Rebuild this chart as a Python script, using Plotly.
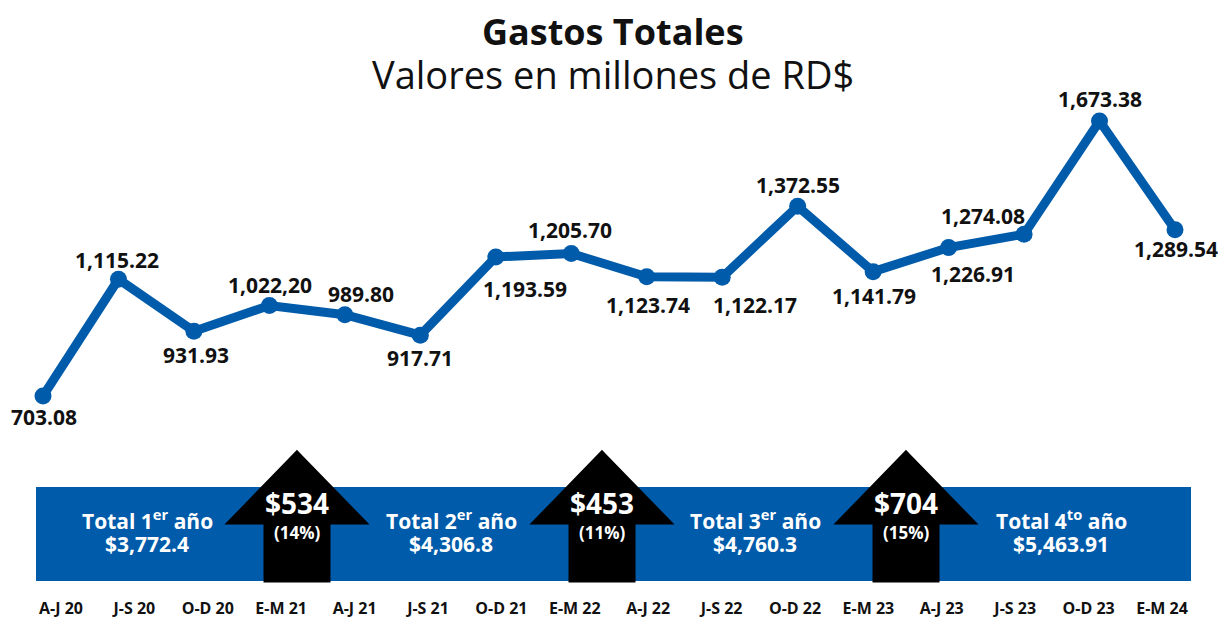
import plotly.graph_objects as go

periods = ["A-J 20", "J-S 20", "O-D 20", "E-M 21", "A-J 21", "J-S 21", "O-D 21", "E-M 22",
           "A-J 22", "J-S 22", "O-D 22", "E-M 23", "A-J 23", "J-S 23", "O-D 23", "E-M 24"]
gastos = [703.08, 1115.22, 931.93, 1022.20, 989.80, 917.71, 1193.59, 1205.70,
          1123.74, 1122.17, 1372.55, 1141.79, 1226.91, 1274.08, 1673.38, 1289.54]
labels = ["703.08", "1,115.22", "931.93", "1,022,20", "989.80", "917.71", "1,193.59", "1,205.70",
          "1,123.74", "1,122.17", "1,372.55", "1,141.79", "1,226.91", "1,274.08", "1,673.38", "1,289.54"]

year_titles = ["Total 1<sup>er</sup> año", "Total 2<sup>er</sup> año",
               "Total 3<sup>er</sup> año", "Total 4<sup>to</sup> año"]
year_totals = ["$3,772.4", "$4,306.8", "$4,760.3", "$5,463.91"]
growth_amt = ["$534", "$453", "$704"]
growth_pct = ["(14%)", "(11%)", "(15%)"]

# label placement offsets in screen pixels (layout only)
label_dx = [1, -1, 2, 1, 16, 0, 29, -1, 1, 33, 0, 1, 24, -41, 0, 1]
label_dy = [21, -19, 24, -21, -21, 23, 32, -24, 28, 28, -21, 24, 26, -18, -22, 19]

W, H = 1218, 619
MB = 22
PH = H - MB
BLUE = "#005BAA"
FONT = "Open Sans"
INK = "#111111"

def px(x):
    return x / W

def py(y):
    return (PH - y) / PH

fig = go.Figure()
fig.add_trace(go.Scatter(
    x=list(range(len(gastos))), y=gastos, mode="lines+markers",
    line=dict(color=BLUE, width=9), marker=dict(color=BLUE, size=17),
    hoverinfo="skip", showlegend=False, cliponaxis=False,
))
fig.add_trace(go.Scatter(
    x=list(range(len(periods))), y=[None] * len(periods), xaxis="x2",
    mode="markers", showlegend=False, hoverinfo="skip",
))

# y scale: 703.08 at 396px, 1673.38 at 121px
ppu = (396 - 121) / (1673.38 - 703.08)
ymax = 1673.38 + 121 / ppu
ymin = ymax - PH / ppu
# x: index 0 at 43px, index 15 at 1175px
pxu = (1175 - 43) / 15
x0 = -43 / pxu
x1 = x0 + W / pxu
# label axis: index 0 at 61px, 15 at 1162px
lxu = (1162 - 61) / 15
lx0 = -61 / lxu
lx1 = lx0 + W / lxu

shapes = [dict(type="rect", xref="paper", yref="paper", x0=px(36), x1=px(1191), y0=py(581), y1=py(487),
               fillcolor=BLUE, line=dict(width=0), layer="below")]
arrow_cx = [297, 602, 906]
for cx in arrow_cx:
    pts = [(cx, 452), (cx + 69, 523), (cx + 32, 523), (cx + 32, 581), (cx - 32, 581),
           (cx - 32, 523), (cx - 69, 523)]
    path = "M " + " L ".join(f"{px(a):.5f} {py(b):.5f}" for a, b in pts) + " Z"
    shapes.append(dict(type="path", xref="paper", yref="paper", path=path,
                       fillcolor="#000000", line=dict(color="#000000", width=3), layer="above"))

def note(text, x, y, size, color=INK):
    return dict(text=text, x=px(x), y=py(y), xref="paper", yref="paper", showarrow=False,
                xanchor="center", yanchor="middle", align="center",
                font=dict(family=FONT, size=size, color=color))

annotations = [
    note("<b>Gastos Totales</b>", 613, 31, 36),
    note("Valores en millones de RD$", 613, 74, 38),
]
for i, (v, t) in enumerate(zip(gastos, labels)):
    annotations.append(dict(text=f"<b>{t}</b>", x=i, y=v, xref="x", yref="y", showarrow=False,
                            xanchor="center", yanchor="middle",
                            xshift=label_dx[i], yshift=-label_dy[i],
                            font=dict(family=FONT, size=21, color=INK)))
tot_cx = [147, 451, 755, 1061]
for cx, t, v in zip(tot_cx, year_titles, year_totals):
    annotations.append(note(f"<b>{t}</b>", cx, 519, 21, "white"))
    annotations.append(note(f"<b>{v}</b>", cx, 544, 21, "white"))
for cx, a, p in zip(arrow_cx, growth_amt, growth_pct):
    annotations.append(note(f"<b>{a}</b>", cx, 503, 28, "white"))
    annotations.append(note(f"<b>{p}</b>", cx, 532, 17, "white"))

fig.update_layout(
    width=W, height=H, margin=dict(l=0, r=0, t=0, b=MB, autoexpand=False),
    paper_bgcolor="white", plot_bgcolor="white",
    xaxis=dict(range=[x0, x1], visible=False),
    xaxis2=dict(range=[lx0, lx1], overlaying="x", side="bottom", anchor="y",
                tickvals=list(range(len(periods))), ticktext=[f"<b>{p}</b>" for p in periods],
                showgrid=False, zeroline=False, showline=False, ticks="", automargin=False,
                tickfont=dict(family=FONT, size=16, color=INK)),
    yaxis=dict(range=[ymin, ymax], visible=False),
    shapes=shapes, annotations=annotations,
)
fig.write_html("out.html", config={"displayModeBar": False},
               post_script="document.body.style.margin='0';document.body.style.overflow='hidden';")
